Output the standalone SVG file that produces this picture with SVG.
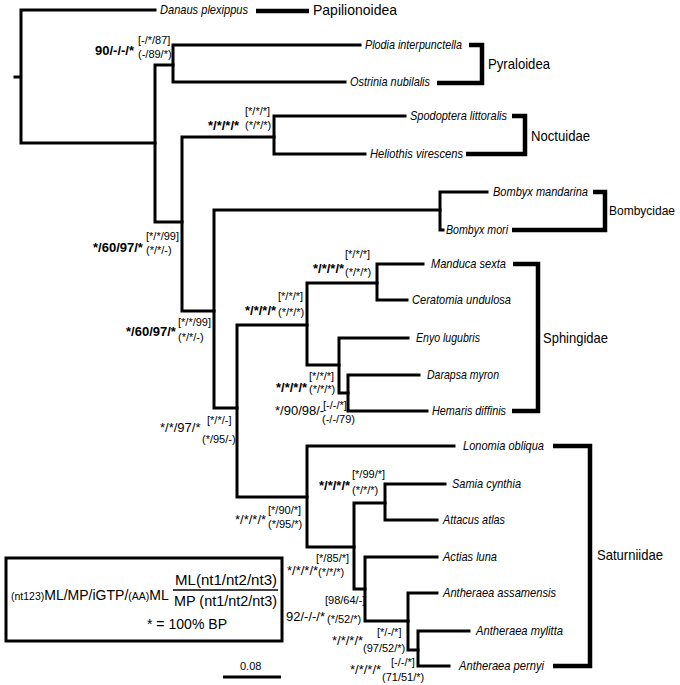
<svg xmlns="http://www.w3.org/2000/svg" width="680" height="685" viewBox="0 0 680 685">
<style>
text{font-family:"Liberation Sans",Arial,sans-serif;fill:#000}
.br{fill:none;stroke:#000;stroke-width:3;stroke-linejoin:miter;stroke-linecap:square}
.bk{fill:none;stroke:#000;stroke-width:4.5;stroke-linejoin:miter}
.tx{font-size:13px;font-style:italic}
.cl{font-size:14.5px}
.b{font-size:13px;font-weight:bold}
.r{font-size:13px}
.s{font-size:11px}
.lg{font-size:15px}
.lgm{font-size:14px}
.lgs{font-size:10.5px}
</style>
<rect width="680" height="685" fill="#fff"/>
<g id="connectors">
<path class="br" d="M15,77 H21 M155,10 H21 V143 H155"/>
<path class="br" d="M173,65 H155 V222 H182"/>
<path class="br" d="M360,45 H173 V82 H345"/>
<path class="br" d="M274,137 H182 V311 H214"/>
<path class="br" d="M405,116 H274 V154 H365"/>
<path class="br" d="M440,210 H214 V408 H237"/>
<path class="br" d="M487,192 H440 V230 H443"/>
<path class="br" d="M307,325 H237 V497 H307"/>
<path class="br" d="M377,283 H307 V365 H339"/>
<path class="br" d="M423,264 H377 V300 H407"/>
<path class="br" d="M408,338 H339 V393 H348"/>
<path class="br" d="M419,375 H348 V411 H427"/>
<path class="br" d="M454,446 H307 V547 H354"/>
<path class="br" d="M385,503 H354 V589 H365"/>
<path class="br" d="M445,484 H385 V520 H437"/>
<path class="br" d="M437,557 H365 V621 H408"/>
<path class="br" d="M437,593 H408 V650 H418"/>
<path class="br" d="M469,631 H418 V666 H449"/>
</g>
<g id="taxon-danaus"><text class="tx" x="160" y="14" textLength="88" lengthAdjust="spacingAndGlyphs">Danaus plexippus</text></g>
<g id="taxon-plodia"><text class="tx" x="365" y="49" textLength="97" lengthAdjust="spacingAndGlyphs">Plodia interpunctella</text></g>
<g id="taxon-ostrinia"><text class="tx" x="350" y="86" textLength="80" lengthAdjust="spacingAndGlyphs">Ostrinia nubilalis</text></g>
<g id="taxon-spodoptera"><text class="tx" x="410" y="120" textLength="97" lengthAdjust="spacingAndGlyphs">Spodoptera littoralis</text></g>
<g id="taxon-heliothis"><text class="tx" x="370" y="158" textLength="93" lengthAdjust="spacingAndGlyphs">Heliothis virescens</text></g>
<g id="taxon-bmandarina"><text class="tx" x="493" y="196" textLength="95" lengthAdjust="spacingAndGlyphs">Bombyx mandarina</text></g>
<g id="taxon-bmori"><text class="tx" x="446" y="234" textLength="62" lengthAdjust="spacingAndGlyphs">Bombyx mori</text></g>
<g id="taxon-manduca"><text class="tx" x="431" y="268" textLength="75" lengthAdjust="spacingAndGlyphs">Manduca sexta</text></g>
<g id="taxon-ceratomia"><text class="tx" x="412" y="304" textLength="99" lengthAdjust="spacingAndGlyphs">Ceratomia undulosa</text></g>
<g id="taxon-enyo"><text class="tx" x="416" y="342" textLength="64" lengthAdjust="spacingAndGlyphs">Enyo lugubris</text></g>
<g id="taxon-darapsa"><text class="tx" x="427" y="379" textLength="72" lengthAdjust="spacingAndGlyphs">Darapsa myron</text></g>
<g id="taxon-hemaris"><text class="tx" x="432" y="415" textLength="74" lengthAdjust="spacingAndGlyphs">Hemaris diffinis</text></g>
<g id="taxon-lonomia"><text class="tx" x="463" y="450" textLength="81" lengthAdjust="spacingAndGlyphs">Lonomia obliqua</text></g>
<g id="taxon-samia"><text class="tx" x="452" y="488" textLength="69" lengthAdjust="spacingAndGlyphs">Samia cynthia</text></g>
<g id="taxon-attacus"><text class="tx" x="443" y="524" textLength="62" lengthAdjust="spacingAndGlyphs">Attacus atlas</text></g>
<g id="taxon-actias"><text class="tx" x="443" y="561" textLength="54" lengthAdjust="spacingAndGlyphs">Actias luna</text></g>
<g id="taxon-assamensis"><text class="tx" x="443" y="597" textLength="113" lengthAdjust="spacingAndGlyphs">Antheraea assamensis</text></g>
<g id="taxon-mylitta"><text class="tx" x="476" y="635" textLength="87" lengthAdjust="spacingAndGlyphs">Antheraea mylitta</text></g>
<g id="taxon-pernyi"><text class="tx" x="459" y="670" textLength="85" lengthAdjust="spacingAndGlyphs">Antheraea pernyi</text></g>
<g id="clade-papilionoidea"><path class="bk" d="M256,11 H309"/><text class="cl" x="313" y="15" textLength="84" lengthAdjust="spacingAndGlyphs">Papilionoidea</text></g>
<g id="clade-pyraloidea"><path class="bk" d="M469,45 H482 V83 H437"/><text class="cl" x="488" y="69" textLength="62" lengthAdjust="spacingAndGlyphs">Pyraloidea</text></g>
<g id="clade-noctuidae"><path class="bk" d="M512,116 H525 V154 H466"/><text class="cl" x="531" y="141" textLength="59" lengthAdjust="spacingAndGlyphs">Noctuidae</text></g>
<g id="clade-bombycidae"><path class="bk" d="M593,192 H605 V230 H512"/><text class="cl" x="609" y="215" style="font-size:13px" textLength="66" lengthAdjust="spacingAndGlyphs">Bombycidae</text></g>
<g id="clade-sphingidae"><path class="bk" d="M513,264 H538 V411 H512"/><text class="cl" x="543" y="343" textLength="65" lengthAdjust="spacingAndGlyphs">Sphingidae</text></g>
<g id="clade-saturniidae"><path class="bk" d="M553,446 H590 V666 H553"/><text class="cl" x="597" y="560" textLength="66" lengthAdjust="spacingAndGlyphs">Saturniidae</text></g>
<g id="support-1"><text class="b" x="95" y="55">90/-/-/*</text><text class="s" x="138" y="44">[-/*/87]</text><text class="s" x="138" y="58">(-/89/*)</text></g>
<g id="support-2"><text class="b" x="93" y="252">*/60/97/*</text><text class="s" x="146" y="240">[*/*/99]</text><text class="s" x="146" y="254">(*/*/-)</text></g>
<g id="support-3"><text class="b" x="208" y="130">*/*/*/*</text><text class="s" x="245" y="115">[*/*/*]</text><text class="s" x="245" y="129">(*/*/*)</text></g>
<g id="support-4"><text class="b" x="126" y="336">*/60/97/*</text><text class="s" x="178" y="326">[*/*/99]</text><text class="s" x="178" y="341">(*/*/-)</text></g>
<g id="support-5"><text class="r" x="160" y="432">*/*/97/*</text><text class="s" x="207" y="424">[*/*/-]</text><text class="s" x="202" y="443">(*/95/-)</text></g>
<g id="support-6"><text class="b" x="245" y="315">*/*/*/*</text><text class="s" x="278" y="300">[*/*/*]</text><text class="s" x="278" y="316">(*/*/*)</text></g>
<g id="support-7"><text class="b" x="313" y="273">*/*/*/*</text><text class="s" x="345" y="258">[*/*/*]</text><text class="s" x="345" y="276">(*/*/*)</text></g>
<g id="support-8"><text class="b" x="276" y="392">*/*/*/*</text><text class="s" x="309" y="380">[*/*/*]</text><text class="s" x="309" y="393">(*/*/*)</text></g>
<g id="support-9"><text class="r" x="275" y="415">*/90/98/-</text><text class="s" x="323" y="409">[-/-/*]</text><text class="s" x="322" y="423">(-/-/79)</text></g>
<g id="support-10"><text class="r" x="235" y="524">*/*/*/*</text><text class="s" x="268" y="514">[*/90/*]</text><text class="s" x="268" y="528">(*/95/*)</text></g>
<g id="support-11"><text class="b" x="319" y="490">*/*/*/*</text><text class="s" x="352" y="478">[*/99/*]</text><text class="s" x="352" y="494">(*/*/*)</text></g>
<g id="support-12"><text class="r" x="287" y="575">*/*/*/*</text><text class="s" x="316" y="562">[*/85/*]</text><text class="s" x="318" y="576">(*/*/*)</text></g>
<g id="support-13"><text class="r" x="286" y="621">92/-/-/*</text><text class="s" x="325" y="604">[98/64/-]</text><text class="s" x="327" y="623">(*/52/*)</text></g>
<g id="support-14"><text class="r" x="332" y="645">*/*/*/*</text><text class="s" x="377" y="636">[*/-/*]</text><text class="s" x="363" y="652">(97/52/*)</text></g>
<g id="support-15"><text class="r" x="350" y="674">*/*/*/*</text><text class="s" x="391" y="666">[-/-/*]</text><text class="s" x="382" y="681">(71/51/*)</text></g>
<g id="legend">
<rect x="6" y="558" width="276" height="83" fill="none" stroke="#000" stroke-width="3"/>
<text x="11" y="600"><tspan class="lgs">(nt123)</tspan><tspan class="lgm">ML/MP/iGTP/</tspan><tspan class="lgs">(AA)</tspan><tspan class="lgm">ML</tspan></text>
<text class="lg" x="175" y="585" textLength="102" lengthAdjust="spacingAndGlyphs">ML(nt1/nt2/nt3)</text>
<line x1="173" y1="590" x2="278" y2="590" stroke="#000" stroke-width="1.5"/>
<text class="lg" x="174" y="606" textLength="103" lengthAdjust="spacingAndGlyphs">MP (nt1/nt2/nt3)</text>
<text class="lg" x="147" y="629" textLength="80" lengthAdjust="spacingAndGlyphs">* = 100% BP</text>
</g>
<g id="scale">
<line x1="223" y1="677" x2="281" y2="677" stroke="#000" stroke-width="3"/>
<text class="s" x="240" y="670">0.08</text>
</g>
</svg>
